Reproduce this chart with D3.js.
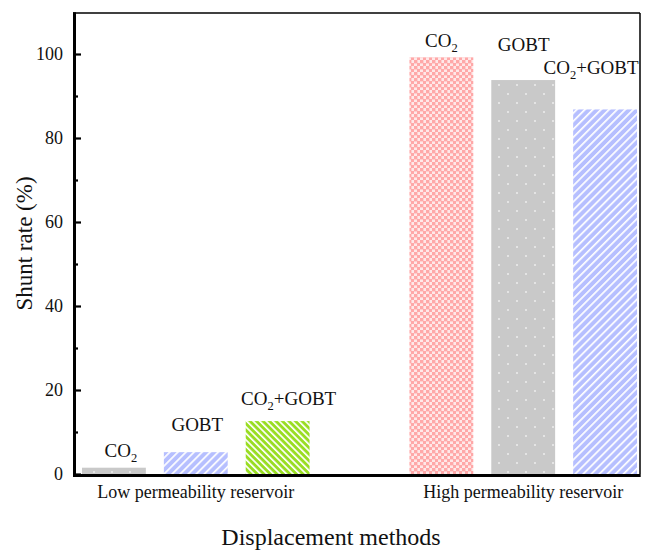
<!DOCTYPE html>
<html>
<head>
<meta charset="utf-8">
<script src="https://cdn.jsdelivr.net/npm/d3@7/dist/d3.min.js"></script>
<style>
  html, body { margin: 0; padding: 0; background: #fff; }
  svg { display: block; }
  svg text, svg tspan { font-family: "Liberation Serif", "Times New Roman", serif !important; fill: #111; }
</style>
</head>
<body>
<svg id="chart" width="645" height="550"></svg>
<script>
// Shunt rate by displacement method in two reservoir types
const reservoirs = ["Low permeability reservoir", "High permeability reservoir"];
const methods = ["CO2", "GOBT", "CO2+GOBT"];
const lowValues = [1.5, 5.2, 12.6];
const highValues = [99.2, 93.8, 86.8];
const yMajorTicks = [0, 20, 40, 60, 80, 100];
const yMinorTicks = [10, 30, 50, 70, 90];
const yTitle = "Shunt rate (%)";
const xTitle = "Displacement methods";

const serif = '"Liberation Serif", "Times New Roman", serif';

// one bar per method in each reservoir, with an empty slot between groups
const bars = [];
lowValues.forEach((v, i) => bars.push({ group: 0, method: methods[i], value: v, slot: i }));
highValues.forEach((v, i) => bars.push({ group: 1, method: methods[i], value: v, slot: i + 4 }));

// fill pattern per bar, and label nudges [dx, gap above bar top]
const fills = ["url(#dotGray)", "url(#hatchBlue)", "url(#hatchGreen)",
               "url(#checkPink)", "url(#dotGray)", "url(#hatchBlue)"];
const labelNudge = [[7, 11], [1.5, 21], [11, 16], [0, 10], [0.5, 29], [-14, 35]];

const svg = d3.select("#chart").attr("font-family", serif);
const plotL = 73, plotR = 640, plotT = 13, plotB = 474;

const x = d3.scaleBand().domain(d3.range(7)).range([plotL, 646])
  .paddingInner(0.22).paddingOuter(0.11);
const y = d3.scaleLinear().domain([0, 110]).range([plotB, plotB - 462]);

// patterns
const defs = svg.append("defs");

const dot = defs.append("pattern").attr("id", "dotGray")
  .attr("patternUnits", "userSpaceOnUse").attr("width", 18).attr("height", 18);
dot.append("rect").attr("width", 18).attr("height", 18).attr("fill", "#c9c9c9");
[[4, 4], [13, 13]].forEach(p => dot.append("rect")
  .attr("x", p[0] - 0.8).attr("y", p[1] - 0.8).attr("width", 1.6).attr("height", 1.6)
  .attr("fill", "#f4f4f4"));

const blue = defs.append("pattern").attr("id", "hatchBlue")
  .attr("patternUnits", "userSpaceOnUse").attr("width", 5.7).attr("height", 10)
  .attr("patternTransform", "rotate(45)");
blue.append("rect").attr("width", 5.7).attr("height", 10).attr("fill", "#b6bfff");
blue.append("rect").attr("width", 1.7).attr("height", 10).attr("fill", "#ffffff");

const green = defs.append("pattern").attr("id", "hatchGreen")
  .attr("patternUnits", "userSpaceOnUse").attr("width", 4.6).attr("height", 10)
  .attr("patternTransform", "rotate(-45)");
green.append("rect").attr("width", 4.6).attr("height", 10).attr("fill", "#99dd22");
green.append("rect").attr("width", 1.7).attr("height", 10).attr("fill", "#ffffff");

const pink = defs.append("pattern").attr("id", "checkPink")
  .attr("patternUnits", "userSpaceOnUse").attr("width", 6).attr("height", 6);
pink.append("rect").attr("width", 6).attr("height", 6).attr("fill", "#ffe8e8");
pink.append("rect").attr("width", 3.4).attr("height", 3.4).attr("fill", "#ffa8a8");
pink.append("rect").attr("x", 3).attr("y", 3).attr("width", 3.4).attr("height", 3.4).attr("fill", "#ffa8a8");

// bars
svg.append("g").selectAll("rect").data(bars).join("rect")
  .attr("x", d => x(d.slot))
  .attr("width", x.bandwidth())
  .attr("y", d => y(d.value))
  .attr("height", d => y(0) - y(d.value))
  .attr("fill", (d, i) => fills[i]);

// value labels with subscript 2
const lab = svg.append("g").attr("font-size", 19).selectAll("text").data(bars).join("text")
  .attr("text-anchor", "middle")
  .attr("x", (d, i) => x(d.slot) + x.bandwidth() / 2 + labelNudge[i][0])
  .attr("y", (d, i) => y(d.value) - labelNudge[i][1]);
lab.each(function (d) {
  const t = d3.select(this);
  const parts = d.method.split("2");
  if (parts.length === 1) { t.text(d.method); return; }
  t.append("tspan").text(parts[0]);
  t.append("tspan").text("2").attr("font-size", 12.5).attr("dy", 5);
  if (parts[1]) t.append("tspan").text(parts[1]).attr("dy", -5);
});

// y axis ticks (inward) and labels
const yAxis = svg.append("g").attr("transform", `translate(${plotL + 1},0)`)
  .call(d3.axisLeft(y).tickValues(yMajorTicks).tickSize(-7).tickPadding(11).tickFormat(d3.format("d")))
  .attr("font-family", serif).attr("font-size", 18);
yAxis.select(".domain").remove();
yAxis.selectAll(".tick line").attr("stroke", "#000").attr("stroke-width", 2.2);
yAxis.selectAll(".tick text").attr("fill", "#111");

const yMinor = svg.append("g").attr("transform", `translate(${plotL + 1},0)`)
  .call(d3.axisLeft(y).tickValues(yMinorTicks).tickSize(-4).tickFormat(""));
yMinor.select(".domain").remove();
yMinor.selectAll(".tick line").attr("stroke", "#000").attr("stroke-width", 2.2);

// frame: heavy left/bottom, light top/right
svg.append("line").attr("x1", plotL).attr("x2", plotR).attr("y1", plotT).attr("y2", plotT)
  .attr("stroke", "#000").attr("stroke-width", 1.5);
svg.append("line").attr("x1", plotR).attr("x2", plotR).attr("y1", plotT).attr("y2", plotB)
  .attr("stroke", "#000").attr("stroke-width", 1.5);
svg.append("line").attr("x1", plotL + 1.5).attr("x2", plotL + 1.5).attr("y1", plotT - 0.7).attr("y2", plotB + 3)
  .attr("stroke", "#000").attr("stroke-width", 3);
svg.append("line").attr("x1", plotL).attr("x2", plotR + 0.7).attr("y1", plotB + 1.5).attr("y2", plotB + 1.5)
  .attr("stroke", "#000").attr("stroke-width", 3);

// group labels centred under each reservoir's bars
svg.append("g").selectAll("text").data(reservoirs).join("text")
  .attr("text-anchor", "middle").attr("font-size", 18)
  .attr("x", (d, g) => {
    const s = bars.filter(b => b.group === g);
    return (x(s[0].slot) + x(s[s.length - 1].slot) + x.bandwidth()) / 2;
  })
  .attr("y", 498)
  .text(d => d);

// axis titles
svg.append("text").attr("text-anchor", "middle").attr("font-size", 24)
  .attr("x", 331).attr("y", 545).text(xTitle);
svg.append("text").attr("text-anchor", "middle").attr("font-size", 23)
  .attr("transform", `translate(32,${(plotT + plotB) / 2}) rotate(-90)`).text(yTitle);
</script>
</body>
</html>
